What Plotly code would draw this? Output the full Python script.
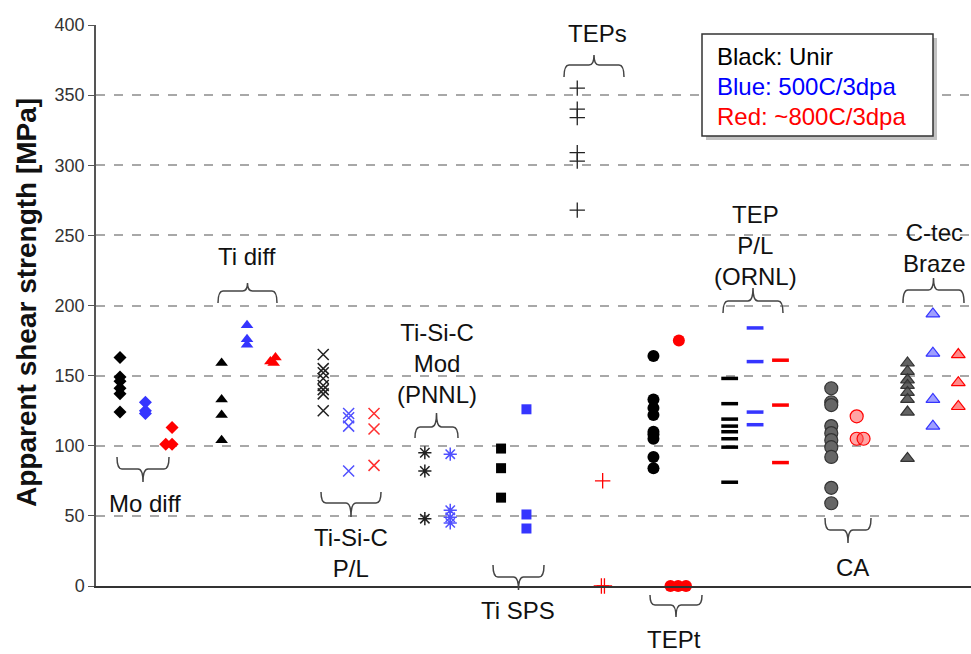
import plotly.graph_objects as go

# ---------------- data (MPa) ----------------
mo_black = [163, 149, 146, 141, 137, 124]
mo_blue = [131, 125, 123]
mo_red = [113, 101, 101]
ti_black = [159, 133, 122, 104]
ti_blue = [186, 176, 172]
ti_red = [163, 160, 159]
tsc_black = [165, 155, 152, 148, 143, 140, 137, 125]
tsc_blue = [123, 120, 114, 82]
tsc_red = [123, 112, 86]
mod_black = [95, 82, 48]
mod_blue = [94, 54, 49, 45]
sps_black = [98, 84, 63]
sps_blue = [126, 51, 41]
teps_black = [355, 340, 334, 309, 303, 268]
teps_red = [75, 0, 0]
tept_black = [164, 133, 127, 122, 110, 108, 105, 92, 84]
tept_red = [175, 0, 0, 0]
tep_black = [148, 130, 119, 114, 110, 105, 99, 74]
tep_blue = [184, 160, 124, 115]
tep_red = [161, 129, 88]
ca_grey = [141, 131, 129, 114, 109, 104, 99, 92, 70, 59]
ca_red = [121, 105, 105]
ct_grey = [159, 153, 147, 143, 138, 133, 124, 91]
ct_blue = [194, 166, 133, 114]
ct_red = [165, 145, 128]

y_ticks = [0, 50, 100, 150, 200, 250, 300, 350, 400]
legend_lines = ["Black: Unir", "Blue: 500C/3dpa", "Red: ~800C/3dpa"]
group_labels = ["Mo diff", "Ti diff", "Ti-Si-C<br>P/L", "Ti-Si-C<br>Mod<br>(PNNL)",
                "Ti SPS", "TEPs", "TEPt", "TEP<br>P/L<br>(ORNL)", "CA", "C-tec<br>Braze"]

# ---------------- layout helpers ----------------
W, H = 971, 654
PL, PR, PT, PB = 96, 971, 25, 586
FONT = "Arial, Liberation Sans, sans-serif"
BLUE = "#3535ff"
RED = "#ff0000"


def px(x):
    return (x - PL) / (PR - PL)


def py(y):
    return (PB - y) / (PB - PT)


fig = go.Figure()


def add(vals, slot, symbol, size, color, line_color=None, line_width=0, jitter=None):
    xs = [slot + (jitter[i] if jitter else 0) for i in range(len(vals))]
    fig.add_trace(go.Scatter(
        x=xs, y=vals, mode="markers", cliponaxis=False, showlegend=False,
        marker=dict(symbol=symbol, size=size, color=color,
                    line=dict(color=line_color or color, width=line_width)),
    ))


# Mo diff
add(mo_black, 0, "diamond", 10, "#000")
add(mo_blue, 1, "diamond", 10, BLUE)
add(mo_red, 2, "diamond", 10, RED, jitter=[0.05, -0.2, 0.05])
# Ti diff
add(ti_black, 4, "triangle-up", 11, "#000")
add(ti_blue, 5, "triangle-up", 11, BLUE)
add(ti_red, 6, "triangle-up", 11, RED, jitter=[0.12, -0.08, 0.05])
# Ti-Si-C P/L
add(tsc_black, 8, "x-thin-open", 11, "#222", line_width=1.5)
add(tsc_blue, 9, "x-thin-open", 11, "#5050ff", line_width=1.5)
add(tsc_red, 10, "x-thin-open", 11, "#ff3030", line_width=1.5)
# Ti-Si-C Mod (PNNL)
add(mod_black, 12, "asterisk-open", 11, "#222", line_width=1.5)
add(mod_blue, 13, "asterisk-open", 11, "#5050ff", line_width=1.5)
# Ti SPS
add(sps_black, 15, "square", 10, "#000")
add(sps_blue, 16, "square", 10, BLUE)
# TEPs
add(teps_black, 18, "cross-thin-open", 11, "#222", line_width=1.3)
add(teps_red, 19, "cross-thin-open", 11, RED, line_width=1.3, jitter=[0, -0.05, 0.07])
# TEPt
add(tept_black, 21, "circle", 12, "#000")
add(tept_red, 22, "circle", 12, RED, jitter=[0, -0.33, -0.03, 0.28])
# TEP P/L (ORNL)
add(tep_black, 24, "line-ew-open", 12, "#000", line_width=3.5)
add(tep_blue, 25, "line-ew-open", 12, BLUE, line_width=3.5)
add(tep_red, 26, "line-ew-open", 12, RED, line_width=3.5)
# CA
add(ca_grey, 28, "circle", 13, "#666", line_color="#333", line_width=1.2)
add(ca_red, 29, "circle", 13, "rgba(255,90,90,0.55)", line_color=RED, line_width=1.2,
    jitter=[0, 0, 0.27])
# C-tec Braze
add(ct_grey, 31, "triangle-up", 12, "rgba(70,70,70,0.85)", line_color="#333", line_width=1.2)
add(ct_blue, 32, "triangle-up", 12, "rgba(80,80,255,0.55)", line_color=BLUE, line_width=1.2)
add(ct_red, 33, "triangle-up", 12, "rgba(255,60,60,0.6)", line_color=RED, line_width=1.2)

# ---------------- braces & group labels ----------------
# (x0, x1, y_end, y_line, y_tip, label_x, label_y) in pixel space
braces = [
    (117, 169, 457, 469, 482, 145, 503),
    (218, 277, 303, 291, 283, 247, 256),
    (321, 381, 492, 503, 517, 351, 553),
    (415, 458, 438, 427, 413, 437, 363),
    (493, 544, 565, 577, 590, 518, 610),
    (564, 624, 77, 65, 55, 597, 33),
    (650, 702, 595, 605, 617, 674, 639),
    (723, 783, 313, 301, 288, 755, 245),
    (825, 871, 518, 530, 543, 852, 567),
    (903, 964, 303, 290, 278, 934, 248),
]

shapes = []
annotations = []
for (x0, x1, ye, yl, yt, lx, ly), lab in zip(braces, group_labels):
    xc = (x0 + x1) / 2
    r = 5
    pts = (f"M {px(x0)},{py(ye)} Q {px(x0)},{py(yl)} {px(x0 + r)},{py(yl)} "
           f"L {px(xc - r)},{py(yl)} Q {px(xc)},{py(yl)} {px(xc)},{py(yt)} "
           f"Q {px(xc)},{py(yl)} {px(xc + r)},{py(yl)} "
           f"L {px(x1 - r)},{py(yl)} Q {px(x1)},{py(yl)} {px(x1)},{py(ye)}")
    shapes.append(dict(type="path", path=pts, xref="paper", yref="paper",
                       line=dict(color="#444", width=1.5), layer="above"))
    annotations.append(dict(text=lab, x=px(lx), y=py(ly), xref="paper", yref="paper",
                            showarrow=False, xanchor="center", yanchor="middle",
                            font=dict(family=FONT, size=24, color="#111")))

# legend box with shadow
bx0, bx1, by0, by1 = 702, 933, 34, 136
shapes.append(dict(type="rect", xref="paper", yref="paper",
                   x0=px(bx0 + 4), x1=px(bx1 + 4), y0=py(by1 + 4), y1=py(by0 + 4),
                   fillcolor="rgba(120,120,120,0.45)", line=dict(width=0), layer="above"))
shapes.append(dict(type="rect", xref="paper", yref="paper",
                   x0=px(bx0), x1=px(bx1), y0=py(by1), y1=py(by0),
                   fillcolor="white", line=dict(color="#333", width=1.5), layer="above"))
for txt, col, yy in zip(legend_lines, ["#000", "#0000ff", "#ff0000"], [57, 87, 117]):
    annotations.append(dict(text=txt, x=px(715), y=py(yy), xref="paper", yref="paper",
                            showarrow=False, xanchor="left", yanchor="middle",
                            font=dict(family=FONT, size=24, color=col)))

# y title
annotations.append(dict(text="<b>Apparent shear strength [MPa]</b>", x=px(27), y=py(303),
                        xref="paper", yref="paper", showarrow=False, textangle=-90,
                        xanchor="center", yanchor="middle",
                        font=dict(family=FONT, size=28, color="#111")))

fig.update_layout(
    width=W, height=H, margin=dict(l=PL, r=W - PR, t=PT, b=H - PB),
    plot_bgcolor="white", paper_bgcolor="white",
    shapes=shapes, annotations=annotations, showlegend=False,
    xaxis=dict(range=[-0.945, 33.5], showgrid=False, zeroline=False, showticklabels=False,
               ticks="", showline=True, linecolor="#333", linewidth=1.5, fixedrange=True),
    yaxis=dict(range=[0, 400], tickvals=y_ticks, ticktext=[str(v) for v in y_ticks],
               showgrid=True, gridcolor="#a8a8a8", gridwidth=1.5, griddash="dash",
               zeroline=False, showline=True, linecolor="#555", linewidth=1.5,
               ticks="outside", ticklen=6, tickcolor="#555",
               tickfont=dict(family=FONT, size=18, color="#333"), fixedrange=True),
)

fig.write_html("out.html")
